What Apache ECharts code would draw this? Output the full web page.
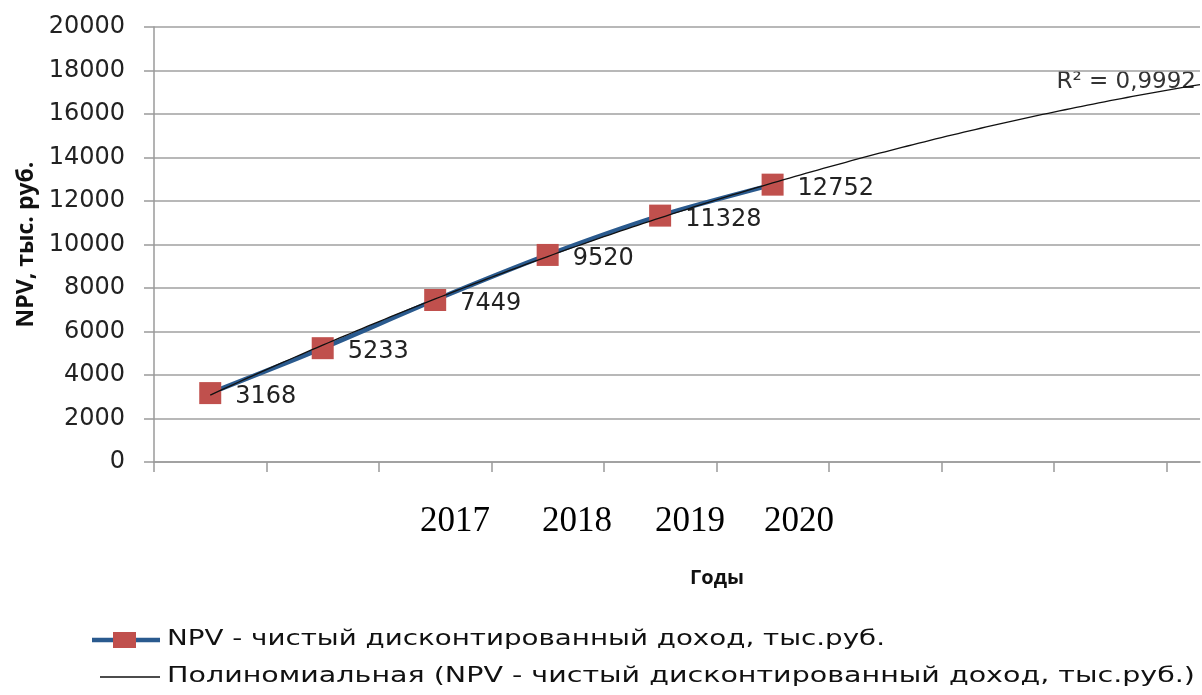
<!DOCTYPE html>
<html>
<head>
<meta charset="utf-8">
<script src="https://cdn.jsdelivr.net/npm/echarts@6/dist/echarts.min.js"></script>
<style>
  html, body { margin: 0; padding: 0; background: #fff; }
  #chart { width: 1202px; height: 695px; }
</style>
</head>
<body>
<div id="chart"></div>
<script>
  // данные NPV по шагам (позиции категорий 0..5, точки в центре ячеек)
  var npv = [3168, 5233, 7449, 9520, 11328, 12752];
  var years = ['2017', '2018', '2019', '2020'];
  var yTicks = [0, 2000, 4000, 6000, 8000, 10000, 12000, 14000, 16000, 18000, 20000];
  var xTicks = [0, 1, 2, 3, 4, 5, 6, 7, 8, 9];
  var r2Text = 'R\u00b2 = 0,9992';
  var seriesName = 'NPV - чистый дисконтированный доход, тыс.руб.';
  var trendName = 'Полиномиальная (NPV - чистый дисконтированный доход, тыс.руб.)';

  var xMax = 9.3;
  var blue = '#2a5a8e', red = '#c0504d';

  // точки ряда в центрах категорий
  var npvPoints = npv.map(function (v, i) { return [i + 0.5, v]; });

  // полиномиальный тренд 2-й степени (МНК по данным ряда)
  function polyFit2(pts) {
    var n = pts.length, sx = 0, sx2 = 0, sx3 = 0, sx4 = 0, sy = 0, sxy = 0, sx2y = 0;
    pts.forEach(function (p) {
      var x = p[0], y = p[1];
      sx += x; sx2 += x * x; sx3 += x * x * x; sx4 += x * x * x * x;
      sy += y; sxy += x * y; sx2y += x * x * y;
    });
    var m = [[n, sx, sx2, sy], [sx, sx2, sx3, sxy], [sx2, sx3, sx4, sx2y]];
    for (var i = 0; i < 3; i++) {
      for (var k = i + 1; k < 3; k++) {
        var f = m[k][i] / m[i][i];
        for (var j = i; j < 4; j++) m[k][j] -= f * m[i][j];
      }
    }
    var c = [0, 0, 0];
    for (var i2 = 2; i2 >= 0; i2--) {
      var s = m[i2][3];
      for (var j2 = i2 + 1; j2 < 3; j2++) s -= m[i2][j2] * c[j2];
      c[i2] = s / m[i2][i2];
    }
    return c;
  }
  var coef = polyFit2(npvPoints);
  var trendPoints = [];
  for (var x = 0.5; x <= xMax + 0.001; x += 0.1) {
    trendPoints.push([x, coef[0] + coef[1] * x + coef[2] * x * x]);
  }

  // подпись легенды растянута по ширине, как в оригинале
  var legendFont = '21px "DejaVu Sans"';
  var mctx = document.createElement('canvas').getContext('2d');
  mctx.font = legendFont;
  function stretch(text, target) { return target / mctx.measureText(text).width; }

  var chart = echarts.init(document.getElementById('chart'));

  var option = {
    backgroundColor: '#fff',
    animation: false,
    textStyle: { fontFamily: 'Open Sans' },
    grid: { left: 154, right: 2, top: 27, bottom: 233 },
    xAxis: {
      type: 'value',
      min: 0,
      max: xMax,
      interval: 1,
      axisLine: { show: true, onZero: false, lineStyle: { color: '#9a9a9a', width: 1.5 } },
      axisTick: { show: true, length: 10, customValues: xTicks, lineStyle: { color: '#9a9a9a', width: 1.5 } },
      axisLabel: { show: false },
      splitLine: { show: false }
    },
    yAxis: {
      type: 'value',
      min: yTicks[0],
      max: yTicks[yTicks.length - 1],
      interval: 2000,
      name: 'NPV, тыс. руб.',
      nameLocation: 'middle',
      nameGap: 116,
      nameTextStyle: { fontSize: 23, fontWeight: 'bold', color: '#111', fontFamily: 'Open Sans' },
      axisLine: { show: true, lineStyle: { color: '#9a9a9a', width: 1.5 } },
      axisTick: { show: true, length: 10, lineStyle: { color: '#9a9a9a', width: 1.5 } },
      axisLabel: { fontSize: 24, color: '#222', margin: 29, fontFamily: 'DejaVu Sans', formatter: function (v) { return String(v); } },
      splitLine: { show: true, lineStyle: { color: '#a0a0a0', width: 1.5 } }
    },
    series: [
      {
        name: seriesName,
        type: 'line',
        data: npvPoints,
        smooth: 0.25,
        symbol: 'rect',
        symbolSize: 22,
        lineStyle: { color: blue, width: 4.5 },
        itemStyle: { color: red },
        label: {
          show: true,
          position: 'right',
          distance: 14,
          offset: [0, 4],
          fontSize: 24,
          color: '#222',
          fontFamily: 'DejaVu Sans',
          formatter: function (p) { return p.value[1]; }
        },
        z: 2
      },
      {
        name: trendName,
        type: 'line',
        data: trendPoints,
        smooth: true,
        symbol: 'none',
        lineStyle: { color: '#111', width: 1.3 },
        z: 3,
        silent: true
      }
    ],
    graphic: [
      {
        type: 'text', x: 1196, y: 82,
        style: { text: r2Text, fontSize: 23, fill: '#333', fontFamily: 'DejaVu Sans', align: 'right', verticalAlign: 'middle' }
      },
      {
        type: 'text', x: 717, y: 578,
        style: { text: 'Годы', fontSize: 20, fontWeight: 'bold', fill: '#111', fontFamily: 'Open Sans', align: 'center', verticalAlign: 'middle' }
      },
      // легенда
      { type: 'line', shape: { x1: 92, y1: 640, x2: 160, y2: 640 }, style: { stroke: blue, lineWidth: 4.5 } },
      { type: 'rect', shape: { x: 113, y: 632, width: 23, height: 16 }, style: { fill: red } },
      {
        type: 'text', x: 167, y: 640, scaleX: stretch(seriesName, 718),
        style: { text: seriesName, font: legendFont, fill: '#111', verticalAlign: 'middle' }
      },
      { type: 'line', shape: { x1: 100, y1: 677, x2: 160, y2: 677 }, style: { stroke: '#111', lineWidth: 1.3 } },
      {
        type: 'text', x: 167, y: 677, scaleX: stretch(trendName, 1028),
        style: { text: trendName, font: legendFont, fill: '#111', verticalAlign: 'middle' }
      }
    ].concat(years.map(function (y, i) {
      var cx = [455, 577, 690, 799][i];
      return {
        type: 'text', x: cx, y: 522,
        style: { text: y, fontSize: 35, fill: '#000', fontFamily: 'Liberation Serif', align: 'center', verticalAlign: 'middle' }
      };
    }))
  };

  chart.setOption(option);
</script>
</body>
</html>
